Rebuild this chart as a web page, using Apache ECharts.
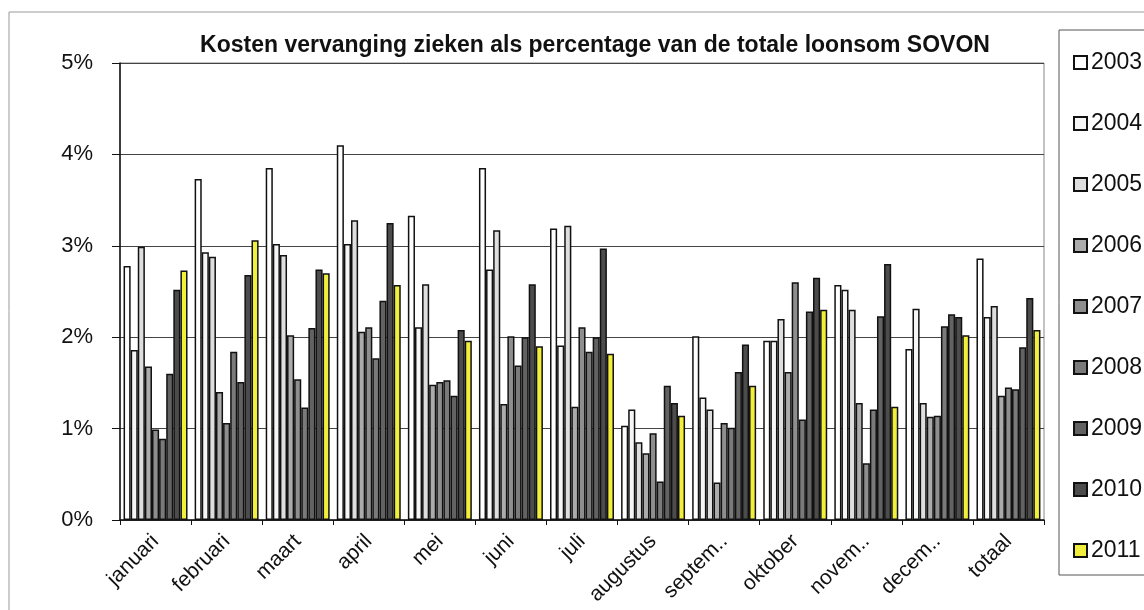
<!DOCTYPE html>
<html>
<head>
<meta charset="utf-8">
<script src="https://cdn.jsdelivr.net/npm/echarts@6/dist/echarts.min.js"></script>
<style>
  html, body { margin: 0; padding: 0; background: #ffffff; }
  #chart { width: 1144px; height: 610px; }
</style>
</head>
<body>
<div id="chart"></div>
<script>
// Months plus the yearly total
const categories = ['januari', 'februari', 'maart', 'april', 'mei', 'juni', 'juli',
  'augustus', 'septem..', 'oktober', 'novem..', 'decem..', 'totaal'];

// Replacement cost of sick staff as % of total payroll, per year
const y2003 = [2.78, 3.73, 3.85, 4.10, 3.33, 3.85, 3.19, 1.03, 2.01, 1.96, 2.57, 1.87, 2.86];
const y2004 = [1.86, 2.93, 3.02, 3.02, 2.11, 2.74, 1.91, 1.21, 1.34, 1.96, 2.52, 2.31, 2.22];
const y2005 = [2.99, 2.88, 2.90, 3.28, 2.58, 3.17, 3.22, 0.85, 1.21, 2.20, 2.30, 1.28, 2.34];
const y2006 = [1.68, 1.40, 2.02, 2.06, 1.48, 1.27, 1.24, 0.73, 0.41, 1.62, 1.28, 1.13, 1.36];
const y2007 = [0.99, 1.06, 1.54, 2.11, 1.51, 2.01, 2.11, 0.95, 1.06, 2.60, 0.62, 1.14, 1.45];
const y2008 = [0.89, 1.84, 1.23, 1.77, 1.53, 1.69, 1.84, 0.42, 1.01, 1.10, 1.21, 2.12, 1.43];
const y2009 = [1.60, 1.51, 2.10, 2.40, 1.36, 2.00, 2.00, 1.47, 1.62, 2.28, 2.23, 2.25, 1.89];
const y2010 = [2.52, 2.68, 2.74, 3.25, 2.08, 2.58, 2.97, 1.28, 1.92, 2.65, 2.80, 2.22, 2.43];
const y2011 = [2.73, 3.06, 2.70, 2.57, 1.96, 1.90, 1.82, 1.14, 1.47, 2.30, 1.24, 2.02, 2.08];

const years = ['2003', '2004', '2005', '2006', '2007', '2008', '2009', '2010', '2011'];
const yearData = [y2003, y2004, y2005, y2006, y2007, y2008, y2009, y2010, y2011];
const yearColors = ['#ffffff', '#f6f6f6', '#dedede', '#ababab', '#8e8e8e',
  '#7a7a7a', '#626262', '#4c4c4c', '#f2ef3c'];

// Y axis ticks
const yTicks = [0, 1, 2, 3, 4, 5];

const FONT = '"Liberation Sans", Arial, sans-serif';

const series = years.map((name, i) => ({
  name: name,
  type: 'bar',
  data: yearData[i],
  barGap: '0%',
  barCategoryGap: '10%',
  itemStyle: { color: yearColors[i], borderColor: '#111111', borderWidth: 1.5 },
  emphasis: { disabled: true }
}));

const chart = echarts.init(document.getElementById('chart'), null, { renderer: 'canvas' });
chart.setOption({
  backgroundColor: '#ffffff',
  animation: false,
  title: {
    text: 'Kosten vervanging zieken als percentage van de totale loonsom SOVON',
    left: 590, top: 29, textAlign: 'center',
    textStyle: { fontFamily: FONT, fontSize: 23, fontWeight: 'bold', color: '#111111' }
  },
  grid: { left: 120, right: 100, top: 63, bottom: 90, show: true, borderColor: '#888888', borderWidth: 1 },
  legend: {
    orient: 'vertical',
    left: 1068, top: 46,
    itemWidth: 13, itemHeight: 13, itemGap: 38,
    icon: 'rect',
    textStyle: { fontFamily: FONT, fontSize: 23, color: '#111111', padding: [0, 0, 0, -1] },
    data: years
  },
  graphic: [
    { type: 'rect', shape: { x: 9, y: 12, width: 1200, height: 700 },
      style: { fill: 'none', stroke: '#999999', lineWidth: 1 }, silent: true, z: -1 },
    { type: 'rect', shape: { x: 1059, y: 30, width: 200, height: 545 },
      style: { fill: '#ffffff', stroke: '#555555', lineWidth: 1 }, silent: true, z: -1 }
  ],
  xAxis: {
    type: 'category',
    data: categories,
    axisLine: { lineStyle: { color: '#111111', width: 1.5 } },
    axisTick: { show: true, alignWithLabel: false, length: 5, lineStyle: { color: '#111111' } },
    axisLabel: { rotate: 45, interval: 0, margin: 18, fontFamily: FONT, fontSize: 21, color: '#111111' }
  },
  yAxis: {
    type: 'value',
    min: yTicks[0], max: yTicks[yTicks.length - 1], interval: 1,
    axisLine: { show: true, lineStyle: { color: '#111111', width: 1.5 } },
    axisTick: { show: true, length: 8, lineStyle: { color: '#111111' } },
    splitLine: { show: true, lineStyle: { color: '#444444', width: 1 } },
    axisLabel: { formatter: '{value}%', margin: 27, fontFamily: FONT, fontSize: 22, color: '#111111' }
  },
  series: series
});
</script>
</body>
</html>
